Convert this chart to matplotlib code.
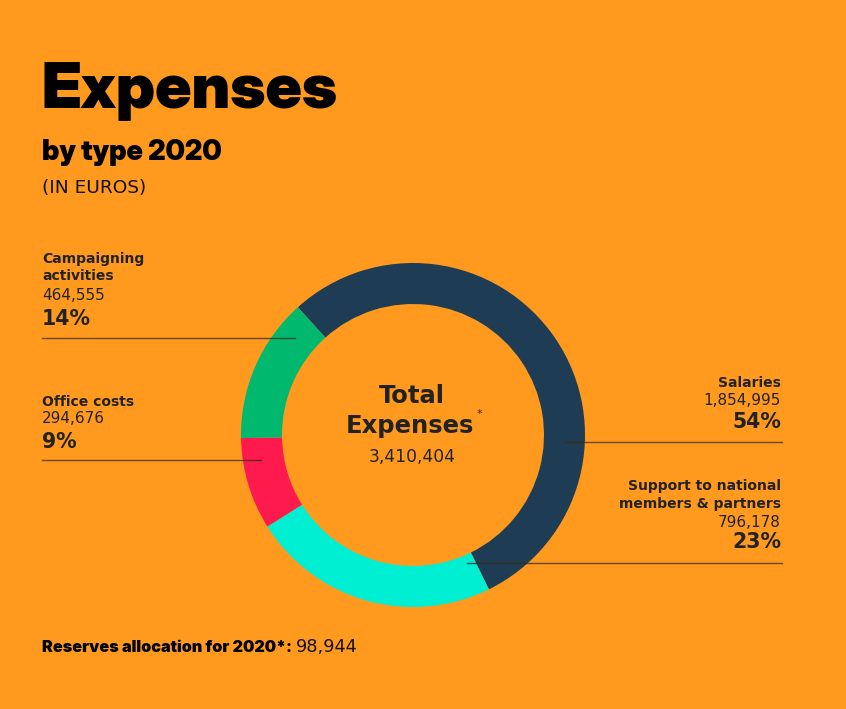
import matplotlib
matplotlib.use("Agg")
import matplotlib.pyplot as plt
from matplotlib import font_manager
from matplotlib.font_manager import FontProperties

W, H = 846, 709
categories = ["Salaries", "Support to national members & partners", "Office costs", "Campaigning activities"]
values = [1854995, 796178, 294676, 464555]
colors = ["#1e3d54", "#00eed2", "#ff1a4d", "#00b86e"]
total = 3410404
reserves = 98944

BG = "#ff9a1f"
TXT = "#222222"
BODY = "DejaVu Sans"

def find_font(*names):
    for n in names:
        for f in font_manager.fontManager.ttflist:
            if f.fname.split("/")[-1] == n:
                return f.fname
    return None

DISPLAY_PATH = find_font("InterDisplay-Black.otf", "Inter-Black.otf", "Lato-Black.ttf")
TEXT_PATH = find_font("Inter-Black.otf", "InterDisplay-Black.otf", "Lato-Black.ttf")

def fp(path, size):
    if path:
        return FontProperties(fname=path, size=size)
    return FontProperties(family="DejaVu Sans", weight="bold", size=size)

fig = plt.figure(figsize=(W / 100, H / 100), dpi=100, facecolor=BG)
ax = fig.add_axes([0, 0, 1, 1])
ax.set_facecolor(BG)
r = fig.canvas.get_renderer()

def Y(y):
    return H - y

cx, cy, R = 413, Y(435), 172
ax.pie(values, colors=colors, startangle=132, counterclock=False, center=(cx, cy), radius=R,
       wedgeprops=dict(width=41, linewidth=0))
ax.set_xlim(0, W)
ax.set_ylim(0, H)
ax.set_aspect("equal")
ax.axis("off")

lc = "#3a2a14"
# leader lines
ax.plot([42, 295], [Y(338), Y(338)], color=lc, lw=1, alpha=0.75)
ax.plot([42, 261], [Y(460), Y(460)], color=lc, lw=1, alpha=0.75)
ax.plot([565, 782], [Y(442), Y(442)], color=lc, lw=1, alpha=0.75)
ax.plot([467, 782], [Y(563), Y(563)], color=lc, lw=1, alpha=0.75)

def t(x, y, s, size, weight="normal", ha="left", color=TXT, **kw):
    return ax.text(x, Y(y), s, fontsize=size, fontweight=weight, ha=ha, va="baseline",
                   color=color, family=BODY, **kw)

def fit(x, y, s, path, width, color="#000000", s0=20):
    txt = ax.text(x, Y(y), s, fontproperties=fp(path, s0), ha="left", va="baseline", color=color)
    w = txt.get_window_extent(r).width
    txt.set_fontproperties(fp(path, s0 * width / w))
    return txt

# titles
fit(41, 108, "Expenses", DISPLAY_PATH, 297)
fit(42, 160, "by type 2020", DISPLAY_PATH, 180)
t(42, 193, "(IN EUROS)", 13.3, color="#111111")

def fmt(v):
    return f"{v:,}"

pct = [round(v / total * 100) for v in values]

LS, NS, PS = 10, 11, 14.8

# left labels
t(42, 263, "Campaigning", LS, weight="bold")
t(42, 280, "activities", LS, weight="bold")
t(42, 300, fmt(values[3]), NS)
t(42, 325, f"{pct[3]}%", PS, weight="bold")

t(42, 406, "Office costs", LS, weight="bold")
t(42, 423, fmt(values[2]), NS)
t(42, 448, f"{pct[2]}%", PS, weight="bold")

# right labels
t(781, 387, "Salaries", LS, weight="bold", ha="right")
t(781, 405, fmt(values[0]), NS, ha="right")
t(781, 428, f"{pct[0]}%", PS, weight="bold", ha="right")

t(781, 490, "Support to national", LS, weight="bold", ha="right")
t(781, 508, "members & partners", LS, weight="bold", ha="right")
t(781, 527, fmt(values[1]), NS, ha="right")
t(781, 548, f"{pct[1]}%", PS, weight="bold", ha="right")

# center
t(412, 403, "Total", 17.5, weight="bold", ha="center")
e = t(410, 433, "Expenses", 17.5, weight="bold", ha="center")
t(412, 462, fmt(total), 12.3, ha="center")

bb = e.get_window_extent(r)
ax.text(bb.x1 + 2, Y(417), "*", fontsize=8, color=TXT, family=BODY, va="baseline")

# reserves footnote
f1 = fit(42, 652, "Reserves allocation for 2020*:", TEXT_PATH, 251, s0=12)
bb = f1.get_window_extent(r)
ax.text(bb.x1 + 4, Y(652), fmt(reserves), fontsize=12.8, color="#111111", family=BODY, va="baseline")

fig.savefig("out.png", dpi=100, facecolor=BG)
